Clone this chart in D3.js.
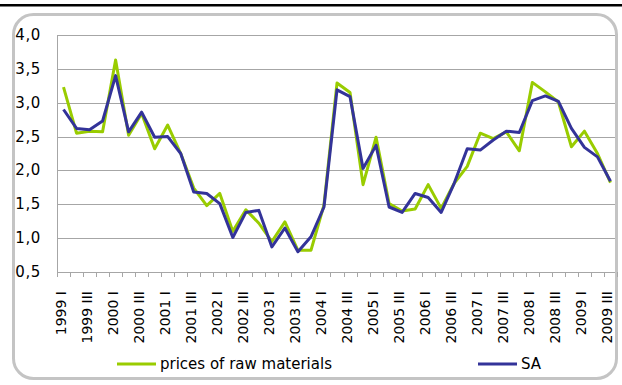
<!DOCTYPE html>
<html>
<head>
<meta charset="utf-8">
<script src="https://cdn.jsdelivr.net/npm/d3@7"></script>
<style>
  html, body { margin: 0; padding: 0; background: #fff; }
  svg { display: block; }
  text { font-family: "DejaVu Sans", Verdana, sans-serif; fill: #000; }
</style>
</head>
<body>
<svg id="chart" width="622" height="385"></svg>
<script>
// Quarterly periods, 1999 I – 2009 III
const years = [1999, 2000, 2001, 2002, 2003, 2004, 2005, 2006, 2007, 2008, 2009];
const quarters = ["I", "II", "III", "IV"];
const categories = [];
years.forEach(y => quarters.forEach(q => { if (!(y === 2009 && q === "IV")) categories.push(y + " " + q); }));

const rawMaterials = [3.23, 2.55, 2.58, 2.57, 3.63, 2.52, 2.84, 2.32, 2.67, 2.25,
  1.74, 1.48, 1.66, 1.10, 1.42, 1.22, 0.95, 1.24, 0.82, 0.82,
  1.49, 3.29, 3.15, 1.79, 2.49, 1.51, 1.40, 1.43, 1.79, 1.44,
  1.81, 2.06, 2.55, 2.47, 2.57, 2.29, 3.30, 3.16, 3.01, 2.35,
  2.58, 2.25, 1.82];

const seasonallyAdjusted = [2.90, 2.62, 2.60, 2.73, 3.40, 2.57, 2.86, 2.49, 2.50, 2.25,
  1.68, 1.66, 1.51, 1.01, 1.38, 1.41, 0.87, 1.15, 0.80, 1.02,
  1.46, 3.19, 3.09, 2.03, 2.37, 1.46, 1.38, 1.66, 1.60, 1.38,
  1.81, 2.32, 2.30, 2.45, 2.58, 2.56, 3.03, 3.10, 3.02, 2.62,
  2.34, 2.20, 1.84];

const yTicks = [0.5, 1.0, 1.5, 2.0, 2.5, 3.0, 3.5, 4.0];
const seriesNames = ["prices of raw materials", "SA"];
const seriesColors = ["#99cc00", "#333399"];

const svg = d3.select("#chart");
const plot = { left: 57, right: 617, top: 35, bottom: 272 };

const x = d3.scaleBand().domain(categories).range([plot.left, plot.right]);
const y = d3.scaleLinear().domain([0.5, 4.0]).range([plot.bottom, plot.top]);
const cx = c => x(c) + x.bandwidth() / 2;
const fmt = v => d3.format(".1f")(v).replace(".", ",");

// top rule
svg.append("rect").attr("x", 0).attr("y", 4).attr("width", 622).attr("height", 2.5).attr("fill", "#000");

// chart frame
svg.append("rect")
  .attr("x", 13.5).attr("y", 14.5).attr("width", 603).attr("height", 364)
  .attr("rx", 20).attr("ry", 20)
  .attr("fill", "#fff").attr("stroke", "#c4c4c4").attr("stroke-width", 3);

// horizontal gridlines
svg.append("g").selectAll("line").data(yTicks.filter(t => t > 0.5)).join("line")
  .attr("x1", plot.left).attr("x2", 615)
  .attr("y1", d => Math.round(y(d)) + 0.5).attr("y2", d => Math.round(y(d)) + 0.5)
  .attr("stroke", "#a6a6a6").attr("stroke-width", 1);

// y axis labels
svg.append("g").selectAll("text").data(yTicks).join("text")
  .attr("x", 41).attr("y", d => y(d))
  .attr("text-anchor", "end").attr("dominant-baseline", "central")
  .attr("font-size", 15).attr("letter-spacing", 0.6)
  .text(fmt);

// axis lines
svg.append("line").attr("x1", plot.left + 0.5).attr("x2", plot.left + 0.5)
  .attr("y1", plot.top).attr("y2", plot.bottom).attr("stroke", "#a6a6a6");
const xAxis = d3.axisBottom(x).tickSize(0).tickFormat("");
const gx = svg.append("g").attr("transform", `translate(0,${Math.round(plot.bottom) + 0.5})`).call(xAxis);
gx.select(".domain").attr("stroke", "#a6a6a6").attr("d", `M${plot.left},0H615`);

// category tick marks at band boundaries
const bounds = categories.map(c => x(c)).concat([plot.right]);
svg.append("g").selectAll("line").data(bounds).join("line")
  .attr("x1", d => Math.round(d) + 0.5).attr("x2", d => Math.round(d) + 0.5)
  .attr("y1", plot.bottom).attr("y2", plot.bottom + 5)
  .attr("stroke", "#a6a6a6");

// category labels (every second quarter)
svg.append("g").selectAll("text").data(categories.filter((c, i) => i % 2 === 0)).join("text")
  .attr("transform", d => `translate(${cx(d) - 3},291) rotate(-90)`)
  .attr("text-anchor", "end").attr("dominant-baseline", "central")
  .attr("font-size", 14)
  .text(d => d);

// series lines
const line = d3.line().x((d, i) => cx(categories[i])).y(d => y(d));
[rawMaterials, seasonallyAdjusted].forEach((vals, k) => {
  svg.append("path").datum(vals)
    .attr("d", line)
    .attr("fill", "none")
    .attr("stroke", seriesColors[k])
    .attr("stroke-width", 3)
    .attr("stroke-linejoin", "round");
});

// legend
const legendItems = [{ x: 117, name: seriesNames[0], color: seriesColors[0] },
                     { x: 478, name: seriesNames[1], color: seriesColors[1] }];
const lg = svg.append("g").selectAll("g").data(legendItems).join("g")
  .attr("transform", d => `translate(${d.x},364)`);
lg.append("line").attr("x1", 0).attr("x2", 39).attr("y1", 0).attr("y2", 0)
  .attr("stroke", d => d.color).attr("stroke-width", 3);
lg.append("text").attr("x", 43).attr("y", 0).attr("dominant-baseline", "central")
  .attr("font-size", 15).text(d => d.name);
</script>
</body>
</html>
